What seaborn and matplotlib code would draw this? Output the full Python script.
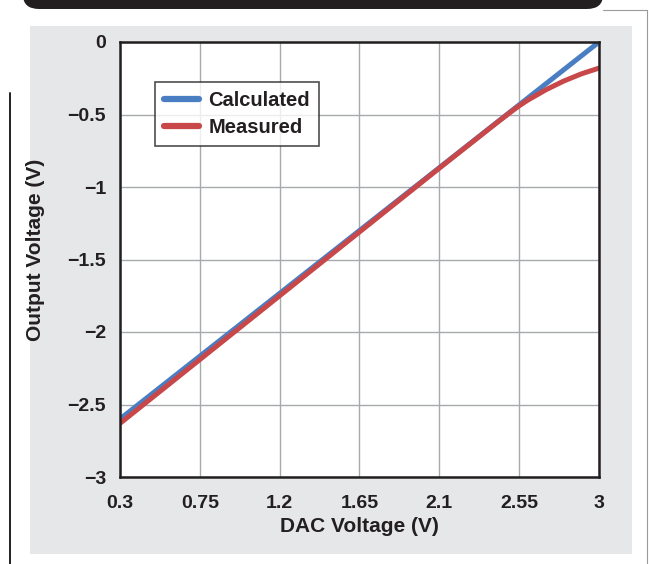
import numpy as np
import pandas as pd
import matplotlib
matplotlib.use("Agg")
import matplotlib.pyplot as plt
import matplotlib.patches as mpatches
from matplotlib.lines import Line2D
import seaborn as sns

# ---------------------------------------------------------------------------
# Data
# ---------------------------------------------------------------------------
dac_calc = [0.3, 3.0]
out_calc = [-2.60, 0.0]

dac_meas = [0.3, 0.75, 1.2, 1.65, 2.1, 2.4, 2.5, 2.55, 2.6, 2.65, 2.7,
            2.75, 2.8, 2.85, 2.9, 2.95, 3.0]
out_meas = [-2.63, -2.19, -1.75, -1.31, -0.87, -0.58, -0.485, -0.44, -0.40,
            -0.365, -0.33, -0.30, -0.27, -0.245, -0.22, -0.20, -0.18]

x_ticks = [0.3, 0.75, 1.2, 1.65, 2.1, 2.55, 3.0]
x_labels = ["0.3", "0.75", "1.2", "1.65", "2.1", "2.55", "3"]
y_ticks = [0, -0.5, -1, -1.5, -2, -2.5, -3]
y_labels = ["0", "\u22120.5", "\u22121", "\u22121.5", "\u22122", "\u22122.5", "\u22123"]

series = ["Calculated", "Measured"]
colors = {"Calculated": "#4a7ec2", "Measured": "#c8484a"}

df = pd.concat([
    pd.DataFrame({"dac": dac_calc, "out": out_calc, "series": "Calculated"}),
    pd.DataFrame({"dac": dac_meas, "out": out_meas, "series": "Measured"}),
], ignore_index=True)

sns.set_style("white")
plt.rcParams["font.family"] = ["Liberation Sans", "DejaVu Sans"]
plt.rcParams["font.weight"] = "bold"

fig = plt.figure(figsize=(6.49, 5.64), dpi=100)

# Page decorations: header bar, gray panel, side rules
W, H = 649, 564
fig.patches.append(mpatches.FancyBboxPatch(
    (23 / W, (H - 9) / H), (603 - 23) / W, 30 / H,
    boxstyle="round,pad=0,rounding_size=0.025", transform=fig.transFigure,
    facecolor="#231f20", edgecolor="none", zorder=-10))
fig.patches.append(mpatches.Rectangle(
    (30 / W, (H - 554) / H), (632 - 30) / W, (554 - 26) / H,
    transform=fig.transFigure, facecolor="#e6e7e8", edgecolor="none", zorder=-10))
fig.lines.append(Line2D([9.5 / W, 9.5 / W], [0, (H - 93) / H],
                        transform=fig.transFigure, color="#231f20", lw=1.4, zorder=-10))
fig.lines.append(Line2D([603 / W, 647 / W, 647 / W], [(H - 9.5) / H, (H - 9.5) / H, 0],
                        transform=fig.transFigure, color="#9a9a9a", lw=0.8, zorder=-10))

ax = fig.add_axes([120 / W, (H - 477) / H, (599 - 120) / W, (477 - 42) / H])
ax.set_zorder(5)
ax.set_facecolor("white")

sns.lineplot(data=df, x="dac", y="out", hue="series", hue_order=series,
             palette=colors, linewidth=3.6, ax=ax, sort=False, legend=False, zorder=3)

ax.set_xlim(0.3, 3.0)
ax.set_ylim(-3, 0)
ax.set_xticks(x_ticks)
ax.set_xticklabels(x_labels)
ax.set_yticks(y_ticks)
ax.set_yticklabels(y_labels)
ax.grid(True, color="#a7a9ac", linewidth=1.0, zorder=0)
ax.tick_params(axis="both", direction="out", length=6, width=0.9, color="#808080",
               labelsize=14, pad=4, labelcolor="#231f20")
ax.tick_params(axis="x", pad=7)
for sp in ax.spines.values():
    sp.set_color("#231f20")
    sp.set_linewidth(1.8)
    sp.set_zorder(4)

ax.set_xlabel("DAC Voltage (V)", fontsize=15, fontweight="bold", color="#231f20", va="center")
ax.set_ylabel("Output Voltage (V)", fontsize=15, fontweight="bold", color="#231f20", va="center")
ax.xaxis.set_label_coords(0.5, (477 - 527) / 435)
ax.yaxis.set_label_coords((36 - 120) / 479, (477 - 250) / 435)

handles = [Line2D([], [], color=colors[s], lw=4.5) for s in series]
leg = ax.legend(handles, series, loc="upper left", bbox_to_anchor=(0.073, 0.908),
                borderaxespad=0, frameon=True, fancybox=False, handlelength=1.75,
                handletextpad=0.45, borderpad=0.45, labelspacing=0.38,
                prop={"weight": "bold", "size": 14.5})
leg.get_frame().set_edgecolor("#231f20")
leg.get_frame().set_linewidth(1.2)
for t in leg.get_texts():
    t.set_color("#231f20")

fig.savefig("out.png", dpi=100)
